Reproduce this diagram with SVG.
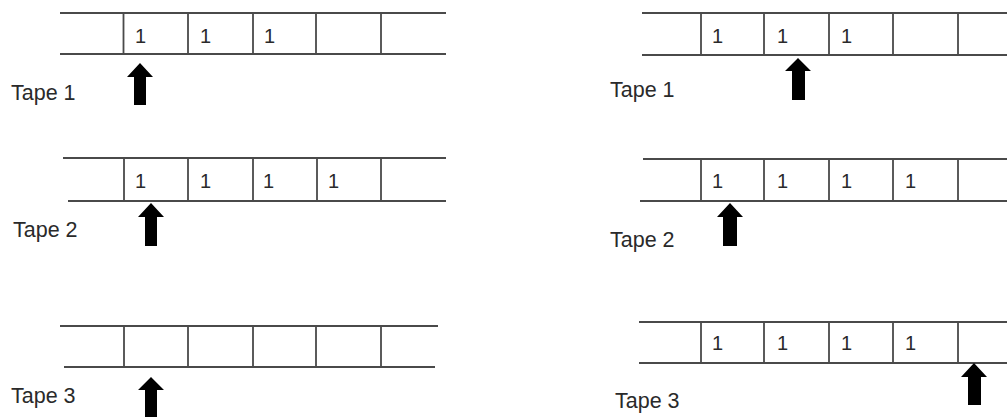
<svg xmlns="http://www.w3.org/2000/svg" width="1007" height="417" viewBox="0 0 1007 417">
<style>
.ln{stroke:#4a4a4a;stroke-width:1.8;fill:none}
.d{font-family:"Liberation Sans",Arial,sans-serif;font-size:20px;fill:#2a2a2a}
.lbl{font-family:"Liberation Sans",Arial,sans-serif;font-size:21.5px;fill:#2a2a2a}
.ar{fill:#000}
</style>
<rect width="1007" height="417" fill="#fff"/>
<g id="left-tape1">
<path class="ln" d="M60 13H446M60 54H446M123.5 13V54M188 13V54M253 13V54M316 13V54M381 13V54"/>
<text class="d" x="135" y="43">1</text><text class="d" x="200" y="43">1</text><text class="d" x="264" y="43">1</text>
<text class="lbl" x="11" y="100">Tape 1</text>
</g>
<g id="left-tape2">
<path class="ln" d="M63 158H446M68 201H446M124 158V201M188 158V201M253 158V201M317 158V201M381 158V201"/>
<text class="d" x="135" y="188">1</text><text class="d" x="200" y="188">1</text><text class="d" x="263" y="188">1</text><text class="d" x="328" y="188">1</text>
<text class="lbl" x="13" y="237">Tape 2</text>
</g>
<g id="left-tape3">
<path class="ln" d="M60 326H438M64 367H435M124 326V367M188 326V367M253 326V367M316 326V367M381 326V367"/>
<text class="lbl" x="11" y="403">Tape 3</text>
</g>
<g id="right-tape1">
<path class="ln" d="M642 13H1007M642 55H1007M701 13V55M764 13V55M829 13V55M893 13V55M958 13V55"/>
<text class="d" x="712" y="43">1</text><text class="d" x="777" y="43">1</text><text class="d" x="841" y="43">1</text>
<text class="lbl" x="610" y="97">Tape 1</text>
</g>
<g id="right-tape2">
<path class="ln" d="M643 159H1007M640 201H1007M701 159V201M764 159V201M829 159V201M893 159V201M958 159V201"/>
<text class="d" x="712" y="188">1</text><text class="d" x="777" y="188">1</text><text class="d" x="841" y="188">1</text><text class="d" x="905" y="188">1</text>
<text class="lbl" x="610" y="247">Tape 2</text>
</g>
<g id="right-tape3">
<path class="ln" d="M639 322H1007M639 363H1007M701 322V363M764 322V363M829 322V363M893 322V363M958 322V363"/>
<text class="d" x="712" y="350">1</text><text class="d" x="777" y="350">1</text><text class="d" x="841" y="350">1</text><text class="d" x="905" y="350">1</text>
<text class="lbl" x="615" y="408">Tape 3</text>
</g>
<g id="heads">
<polygon class="ar" points="140,63 153,77 146,77 146,105 134,105 134,77 127,77"/>
<polygon class="ar" points="151,203 164,217 157,217 157,246 145,246 145,217 138,217"/>
<polygon class="ar" points="151,377 164,390 157,390 157,417 145,417 145,390 138,390"/>
<polygon class="ar" points="798,58 811,71 805,71 805,100 792,100 792,71 785,71"/>
<polygon class="ar" points="730,203 743,217 737,217 737,246 723,246 723,217 717,217"/>
<polygon class="ar" points="974,363 987,377 981,377 981,405 968,405 968,377 961,377"/>
</g>
</svg>
